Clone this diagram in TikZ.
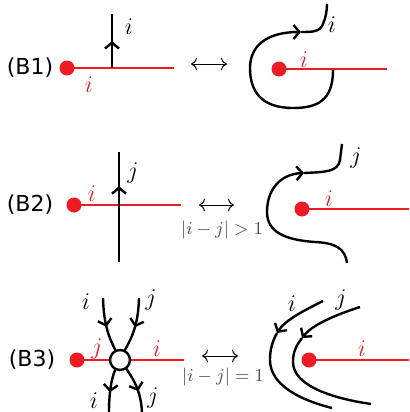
\documentclass[tikz,border=0pt]{standalone}
\usepackage{fontspec}
\newfontfamily\tagfont{DejaVu Sans}
\usetikzlibrary{arrows.meta}
\usetikzlibrary{decorations.markings}
\definecolor{knotred}{RGB}{237,28,36}

\begin{document}
\begin{tikzpicture}[
    x=0.5pt, y=-0.5pt,
    puncture/.style={circle, fill=knotred, inner sep=0pt, minimum size=7.5pt},
    seam/.style={draw=knotred, line width=1pt},
    strand/.style={line width=1.2pt},
    endarrow/.style={-{Straight Barb[length=3pt,width=7pt]}},
    midarrow/.style={postaction={decorate, decoration={markings,
        mark=at position #1 with {\arrow{Straight Barb[length=3pt,width=7pt]}}}}},
    vertex/.style={circle, draw, fill=white, line width=1.2pt, inner sep=0pt, minimum size=10pt},
    tag/.style={font=\tagfont\fontsize{11}{13}\selectfont},
    lab/.style={font=\large, inner sep=1pt},
    rlab/.style={font=\large, text=knotred, inner sep=1pt},
    equiv/.style={{To[length=3pt]}-{To[length=3pt]}, line width=0.5pt},
    cond/.style={font=\small, text=black!70}
]
    \useasboundingbox (0,0) rectangle (409,412);

    % (B1)
    \node[tag] (t1) at (30,68) {(B1)};
    \node[puncture] (p1) at (67,68) {};
    \coordinate (e1) at (174,68);
    \draw[seam] (p1.center) -- (e1);
    \coordinate (c1) at (112,68);
    \coordinate (u1) at (112,14);
    \draw[strand, midarrow=0.5] (c1) -- (u1);
    \node[lab] (l1) at (129,27) {$i$};
    \node[rlab] (r1) at (89,85) {$i$};

    \coordinate (a1) at (191,64);
    \coordinate (b1) at (227,64);
    \draw[equiv] (a1) -- (b1);

    \node[puncture] (q1) at (279,69) {};
    \coordinate (f1) at (387,69);
    \draw[seam] (q1.center) -- (f1);
    \coordinate (s1) at (333,70);
    \coordinate (k1) at (301,32);
    \coordinate (n1) at (327,4);
    \draw[strand, endarrow] (s1) .. controls (333,100) and (318,108) .. (293,108)
        .. controls (262,108) and (250,92) .. (250,68)
        .. controls (250,45) and (268,32) .. (k1);
    \draw[strand] (k1) .. controls (312,32) and (320,32) .. (323,24)
        .. controls (326,17) and (327,10) .. (n1);
    \node[rlab] (r1b) at (304,60) {$i$};
    \node[lab] (l1b) at (332,25) {$i$};

    % (B2)
    \node[tag] (t2) at (30,205) {(B2)};
    \node[puncture] (p2) at (74,205) {};
    \coordinate (e2) at (181,205);
    \draw[seam] (p2.center) -- (e2);
    \coordinate (c2) at (119,262);
    \coordinate (u2) at (119,152);
    \draw[strand, midarrow=0.69] (c2) -- (u2);
    \node[lab] (l2) at (133,173) {$j$};
    \node[rlab] (r2) at (92,194) {$i$};

    \coordinate (a2) at (199,205);
    \coordinate (b2) at (234,205);
    \draw[equiv] (a2) -- (b2);
    \node[cond] (k2) at (222,230) {$|i-j|>1$};

    \node[puncture] (q2) at (302,209) {};
    \coordinate (f2) at (409,209);
    \draw[seam] (q2.center) -- (f2);
    \coordinate (s2) at (347,263);
    \coordinate (m2) at (304,173);
    \coordinate (n2) at (342,144);
    \draw[strand, endarrow] (s2) .. controls (345,248) and (335,243) .. (315,242)
        .. controls (285,240) and (267,232) .. (267,212)
        .. controls (267,190) and (280,174) .. (m2);
    \draw[strand] (m2) .. controls (325,172) and (338,172) .. (340,160) -- (n2);
    \node[lab] (l2b) at (356,158) {$j$};
    \node[rlab] (r2b) at (329,199) {$i$};

    % (B3)
    \node[tag] (t3) at (32,360) {(B3)};
    \node[puncture] (p3) at (77,360) {};
    \coordinate (e3) at (184,360);
    \draw[seam] (p3.center) -- (e3);
    \coordinate (x3) at (120,360);
    \coordinate (tl) at (103,298);
    \coordinate (tr) at (139,298);
    \coordinate (bl) at (109,413);
    \coordinate (br) at (142,413);
    \draw[strand, midarrow=0.45] (tl) .. controls (104,335) and (114,345) .. (x3);
    \draw[strand, midarrow=0.45] (tr) .. controls (138,335) and (126,345) .. (x3);
    \draw[strand, midarrow=0.62] (x3) .. controls (113,372) and (109,385) .. (bl);
    \draw[strand, midarrow=0.62] (x3) .. controls (128,372) and (141,385) .. (br);
    \node[vertex] (v3) at (x3) {};
    \node[lab] (l3a) at (86,302) {$i$};
    \node[lab] (l3b) at (151,300) {$j$};
    \node[lab] (l3c) at (94,401) {$i$};
    \node[lab] (l3d) at (153,398) {$j$};
    \node[rlab] (r3a) at (97,349) {$j$};
    \node[rlab] (r3b) at (157,349) {$i$};

    \coordinate (a3) at (202,356);
    \coordinate (b3) at (238,356);
    \draw[equiv] (a3) -- (b3);
    \node[cond] (k3) at (223,377) {$|i-j|=1$};

    \node[puncture] (q3) at (309,360) {};
    \coordinate (f3) at (409,360);
    \draw[seam] (q3.center) -- (f3);
    \coordinate (s3i) at (323,301);
    \coordinate (m3i) at (277,333);
    \coordinate (n3i) at (332,408);
    \draw[strand, endarrow] (s3i) .. controls (305,310) and (285,320) .. (m3i);
    \draw[strand] (m3i) .. controls (272,342) and (270,350) .. (270,360)
        .. controls (270,385) and (300,400) .. (n3i);
    \coordinate (s3j) at (360,307);
    \coordinate (m3j) at (302,338);
    \coordinate (n3j) at (371,404);
    \draw[strand, endarrow] (s3j) .. controls (335,315) and (312,325) .. (m3j);
    \draw[strand] (m3j) .. controls (296,346) and (293,352) .. (293,362)
        .. controls (293,385) and (330,398) .. (n3j);
    \node[lab] (l3e) at (292,304) {$i$};
    \node[lab] (l3f) at (341,300) {$j$};
    \node[rlab] (r3c) at (362,349) {$i$};
\end{tikzpicture}
\end{document}
